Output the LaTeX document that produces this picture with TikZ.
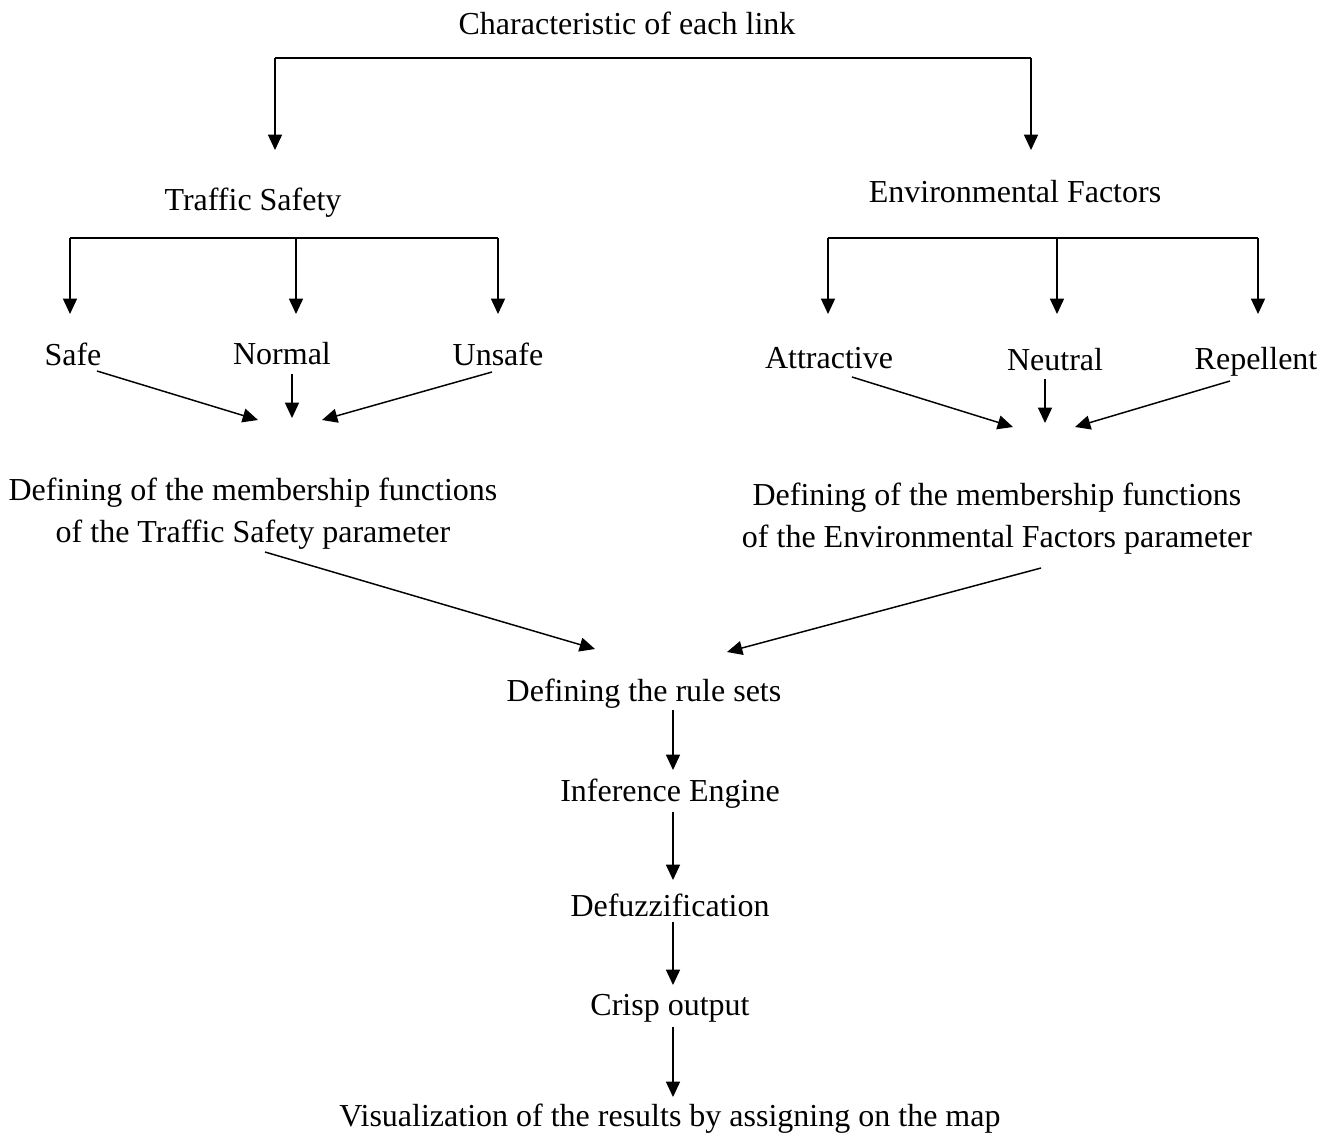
\documentclass[tikz,border=0pt]{standalone}
\usepackage{fontspec}
\setmainfont{Liberation Serif}
\usetikzlibrary{arrows.meta}
\begin{document}
\begin{tikzpicture}[x=0.75pt,y=-0.75pt,
  txt/.style={font=\fontsize{24}{31.5}\selectfont, inner sep=0pt, align=center},
  ln/.style={line width=1.1pt},
  arr/.style={line width=1.1pt,-{Triangle[length=11.5pt,width=10.5pt]}}]
\useasboundingbox[fill=white] (0,0) rectangle (1333,1135);
% nodes
\node[txt] (title) at (627,23) {Characteristic of each link};
\node[txt] (ts) at (253,203) {Traffic Safety};
\node[txt] (ef) at (1015,192) {Environmental Factors};
\node[txt] (safe) at (73,354) {Safe};
\node[txt] (normal) at (282,354) {Normal};
\node[txt] (unsafe) at (498,354) {Unsafe};
\node[txt] (attr) at (829,358) {Attractive};
\node[txt] (neut) at (1055,360) {Neutral};
\node[txt] (rep) at (1256,362) {Repellent};
\node[txt] (mfts) at (253,514) {Defining of the membership functions\\of the Traffic Safety parameter};
\node[txt] (mfef) at (997,519) {Defining of the membership functions\\of the Environmental Factors parameter};
\node[txt] (rules) at (644,694) {Defining the rule sets};
\node[txt] (inf) at (670,794) {Inference Engine};
\node[txt] (defz) at (670,905) {Defuzzification};
\node[txt] (crisp) at (670,1008) {Crisp output};
\node[txt] (vis) at (670,1119) {Visualization of the results by assigning on the map};
% coordinates
\coordinate (tL) at (275,58);
\coordinate (tR) at (1031,58);
\coordinate (tsL) at (70,238);
\coordinate (tsM) at (296,238);
\coordinate (tsR) at (498,238);
\coordinate (efL) at (828,238);
\coordinate (efM) at (1057,238);
\coordinate (efR) at (1258,238);
\coordinate (safeE) at (97,371);
\coordinate (normalE) at (292,374);
\coordinate (unsafeE) at (492,372);
\coordinate (mftsA) at (258,420);
\coordinate (mftsB) at (292,418);
\coordinate (mftsC) at (322,420);
\coordinate (attrE) at (852,377);
\coordinate (neutE) at (1045,379);
\coordinate (repE) at (1230,381);
\coordinate (mfefA) at (1013,427);
\coordinate (mfefB) at (1045,423);
\coordinate (mfefC) at (1075,427);
\coordinate (mftsO) at (265,552);
\coordinate (mfefO) at (1041,568);
\coordinate (rulesA) at (595,649);
\coordinate (rulesB) at (727,652);
% title bracket
\draw[ln] (tL) -- (tR);
\draw[arr] (tL) -- (275,150);
\draw[arr] (tR) -- (1031,150);
% traffic safety bracket
\draw[ln] (tsL) -- (tsR);
\draw[arr] (tsL) -- (70,314);
\draw[arr] (tsM) -- (296,314);
\draw[arr] (tsR) -- (498,314);
% environmental bracket
\draw[ln] (efL) -- (efR);
\draw[arr] (efL) -- (828,314);
\draw[arr] (efM) -- (1057,314);
\draw[arr] (efR) -- (1258,314);
% to membership functions
\draw[arr] (safeE) -- (mftsA);
\draw[arr] (normalE) -- (mftsB);
\draw[arr] (unsafeE) -- (mftsC);
\draw[arr] (attrE) -- (mfefA);
\draw[arr] (neutE) -- (mfefB);
\draw[arr] (repE) -- (mfefC);
% to rules
\draw[arr] (mftsO) -- (rulesA);
\draw[arr] (mfefO) -- (rulesB);
% chain
\draw[arr] (673,710) -- (673,770);
\draw[arr] (673,812) -- (673,880);
\draw[arr] (673,922) -- (673,985);
\draw[arr] (673,1027) -- (673,1097);
\end{tikzpicture}
\end{document}
